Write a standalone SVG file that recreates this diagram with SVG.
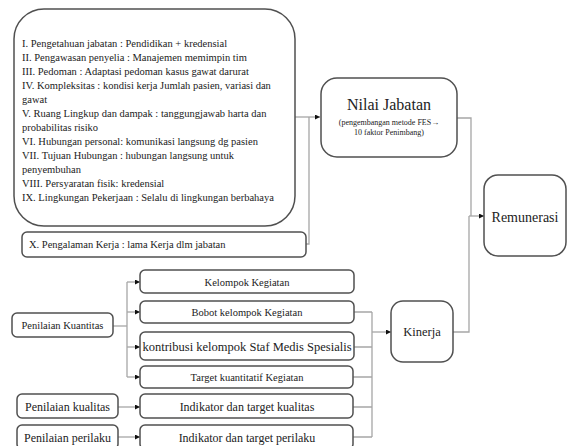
<svg xmlns="http://www.w3.org/2000/svg" width="569" height="446" viewBox="0 0 569 446">
<style>
.box{fill:#fff;stroke:#505050;stroke-width:1.5}
.con{fill:none;stroke:#a6a6a6;stroke-width:1.3}
.arr{fill:none;stroke:#a6a6a6;stroke-width:1.3;marker-end:url(#ah)}
text{font-family:"Liberation Serif","Times New Roman",serif;fill:#222}
.s{font-size:10.5px}
.c{text-anchor:middle}
</style>
<defs>
<marker id="ah" viewBox="0 0 10 10" refX="10" refY="5" markerWidth="5" markerHeight="5" markerUnits="userSpaceOnUse" orient="auto">
<path d="M0,0 L10,5 L0,10 z" fill="#111"/>
</marker>
</defs>
<rect width="569" height="446" fill="#fff"/>
<g id="connectors">
<path class="arr" d="M295,117 H320"/>
<path class="con" d="M306,244 H309 V117"/>
<path class="con" d="M457,118 H471 V216"/>
<path class="arr" d="M469,216 H484"/>
<path class="con" d="M453,332 H469 V216"/>
<path class="con" d="M113,326 H127"/>
<path class="con" d="M127,282 V377"/>
<path class="arr" d="M127,282 H140"/>
<path class="arr" d="M127,312 H140"/>
<path class="arr" d="M127,347 H140"/>
<path class="arr" d="M127,377 H140"/>
<path class="arr" d="M118,407 H140"/>
<path class="arr" d="M118,437 H140"/>
<path class="con" d="M354,312 H372 M354,347 H372 M353,377 H372 M353,407 H372 M353,437 H372 M372,312 V437"/>
<path class="arr" d="M372,332 H391"/>
</g>
<g id="node-faktor">
<rect class="box" x="14" y="9" width="281" height="217" rx="30"/>
<text class="s" x="22" y="46.5">I. Pengetahuan jabatan : Pendidikan + kredensial</text>
<text class="s" x="22" y="60.5">II. Pengawasan penyelia :  Manajemen memimpin tim</text>
<text class="s" x="22" y="74.5">III. Pedoman : Adaptasi pedoman kasus gawat darurat</text>
<text class="s" x="22" y="88.5">IV. Kompleksitas : kondisi kerja Jumlah pasien, variasi dan</text>
<text class="s" x="22" y="102.5">gawat</text>
<text class="s" x="22" y="116.5">V. Ruang Lingkup dan dampak : tanggungjawab harta dan</text>
<text class="s" x="22" y="130.5">probabilitas risiko</text>
<text class="s" x="22" y="144.5">VI. Hubungan personal: komunikasi langsung dg pasien</text>
<text class="s" x="22" y="158.5">VII. Tujuan Hubungan : hubungan langsung untuk</text>
<text class="s" x="22" y="172.5">penyembuhan</text>
<text class="s" x="22" y="186.5">VIII. Persyaratan fisik: kredensial</text>
<text class="s" x="22" y="200.5">IX. Lingkungan Pekerjaan : Selalu di lingkungan berbahaya</text>
</g>
<g id="node-pengalaman">
<rect class="box" x="22" y="232" width="284" height="25" rx="5"/>
<text class="s" x="29" y="248">X. Pengalaman  Kerja : lama Kerja dlm jabatan</text>
</g>
<g id="node-nilai">
<rect class="box" x="321" y="78" width="136" height="79" rx="16"/>
<text class="c" x="389" y="110" font-size="16">Nilai Jabatan</text>
<text class="c" x="389" y="125" font-size="8">(pengembangan  metode FES→</text>
<text class="c" x="389" y="135" font-size="8">10 faktor Penimbang)</text>
</g>
<g id="node-remunerasi">
<rect class="box" x="484" y="175" width="82" height="81" rx="14"/>
<text class="c" x="525" y="222" font-size="14">Remunerasi</text>
</g>
<g id="node-kinerja">
<rect class="box" x="391" y="301" width="62" height="61" rx="12"/>
<text class="c" x="422" y="336" font-size="12.5">Kinerja</text>
</g>
<g id="node-kuantitas">
<rect class="box" x="12" y="313" width="101" height="24" rx="5"/>
<text class="c s" x="62.5" y="329">Penilaian Kuantitas</text>
</g>
<g id="node-kualitas">
<rect class="box" x="17" y="394" width="101" height="24" rx="5"/>
<text class="c" x="67.5" y="411" font-size="12">Penilaian kualitas</text>
</g>
<g id="node-perilaku">
<rect class="box" x="17" y="425" width="101" height="24" rx="5"/>
<text class="c" x="67.5" y="442" font-size="12">Penilaian perilaku</text>
</g>
<g id="node-kelompok">
<rect class="box" x="140" y="270" width="214" height="23" rx="5"/>
<text class="c s" x="247" y="285.5">Kelompok Kegiatan</text>
</g>
<g id="node-bobot">
<rect class="box" x="140" y="301" width="214" height="22" rx="5"/>
<text class="c s" x="247" y="316">Bobot kelompok Kegiatan</text>
</g>
<g id="node-kontribusi">
<rect class="box" x="140" y="332" width="214" height="28" rx="5"/>
<text class="c" x="247" y="351" font-size="12.5">kontribusi kelompok Staf Medis Spesialis</text>
</g>
<g id="node-target">
<rect class="box" x="140" y="366" width="213" height="22" rx="5"/>
<text class="c s" x="247" y="381">Target kuantitatif Kegiatan</text>
</g>
<g id="node-indikator-kualitas">
<rect class="box" x="140" y="394" width="213" height="24" rx="5"/>
<text class="c" x="247" y="411" font-size="12">Indikator dan target kualitas</text>
</g>
<g id="node-indikator-perilaku">
<rect class="box" x="140" y="425" width="213" height="24" rx="5"/>
<text class="c" x="247" y="442" font-size="12">Indikator dan target perilaku</text>
</g>
</svg>
